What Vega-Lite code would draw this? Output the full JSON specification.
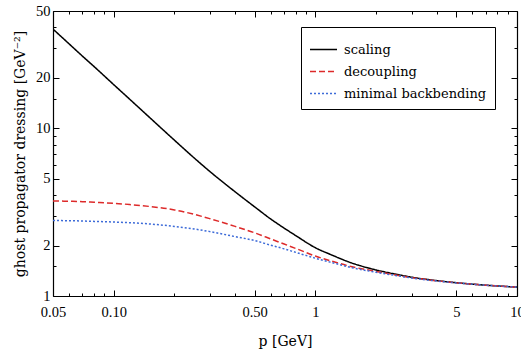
{
  "$schema": "https://vega.github.io/schema/vega-lite/v6.json",
  "width": 464,
  "height": 285,
  "autosize": {"type": "none"},
  "padding": {"left": 53, "top": 11, "right": 4, "bottom": 58},
  "config": {
    "font": "DejaVu Serif",
    "view": {"stroke": null},
    "axis": {
      "labelFont": "Liberation Serif",
      "titleFont": "DejaVu Serif",
      "labelColor": "black",
      "titleColor": "black",
      "domainColor": "black",
      "domainWidth": 1.2,
      "tickColor": "black",
      "tickWidth": 1,
      "grid": false,
      "labelFlush": false,
      "labelFontSize": 14.5,
      "titleFontSize": 14,
      "titleFontWeight": "normal"
    },
    "legend": {
      "labelFont": "DejaVu Serif",
      "labelFontSize": 13,
      "labelColor": "black"
    }
  },
  "data": {
    "values": [
      {"p": 0.05, "D": 39.0, "series": "scaling"},
      {"p": 0.06, "D": 31.9, "series": "scaling"},
      {"p": 0.07, "D": 26.9, "series": "scaling"},
      {"p": 0.08, "D": 23.3, "series": "scaling"},
      {"p": 0.1, "D": 18.2, "series": "scaling"},
      {"p": 0.12, "D": 14.9, "series": "scaling"},
      {"p": 0.15, "D": 11.65, "series": "scaling"},
      {"p": 0.2, "D": 8.49, "series": "scaling"},
      {"p": 0.25, "D": 6.67, "series": "scaling"},
      {"p": 0.3, "D": 5.52, "series": "scaling"},
      {"p": 0.4, "D": 4.18, "series": "scaling"},
      {"p": 0.5, "D": 3.4, "series": "scaling"},
      {"p": 0.6, "D": 2.88, "series": "scaling"},
      {"p": 0.7, "D": 2.54, "series": "scaling"},
      {"p": 0.8, "D": 2.29, "series": "scaling"},
      {"p": 1, "D": 1.94, "series": "scaling"},
      {"p": 1.2, "D": 1.76, "series": "scaling"},
      {"p": 1.5, "D": 1.58, "series": "scaling"},
      {"p": 2, "D": 1.43, "series": "scaling"},
      {"p": 2.5, "D": 1.35, "series": "scaling"},
      {"p": 3, "D": 1.295, "series": "scaling"},
      {"p": 4, "D": 1.235, "series": "scaling"},
      {"p": 5, "D": 1.2, "series": "scaling"},
      {"p": 7, "D": 1.16, "series": "scaling"},
      {"p": 10, "D": 1.13, "series": "scaling"},
      {"p": 0.05, "D": 3.69, "series": "decoupling"},
      {"p": 0.06, "D": 3.67, "series": "decoupling"},
      {"p": 0.07, "D": 3.65, "series": "decoupling"},
      {"p": 0.08, "D": 3.62, "series": "decoupling"},
      {"p": 0.1, "D": 3.57, "series": "decoupling"},
      {"p": 0.12, "D": 3.51, "series": "decoupling"},
      {"p": 0.15, "D": 3.42, "series": "decoupling"},
      {"p": 0.2, "D": 3.26, "series": "decoupling"},
      {"p": 0.25, "D": 3.07, "series": "decoupling"},
      {"p": 0.3, "D": 2.89, "series": "decoupling"},
      {"p": 0.4, "D": 2.6, "series": "decoupling"},
      {"p": 0.5, "D": 2.38, "series": "decoupling"},
      {"p": 0.6, "D": 2.19, "series": "decoupling"},
      {"p": 0.7, "D": 2.04, "series": "decoupling"},
      {"p": 0.8, "D": 1.92, "series": "decoupling"},
      {"p": 1, "D": 1.73, "series": "decoupling"},
      {"p": 1.2, "D": 1.615, "series": "decoupling"},
      {"p": 1.5, "D": 1.5, "series": "decoupling"},
      {"p": 2, "D": 1.4, "series": "decoupling"},
      {"p": 2.5, "D": 1.335, "series": "decoupling"},
      {"p": 3, "D": 1.287, "series": "decoupling"},
      {"p": 4, "D": 1.232, "series": "decoupling"},
      {"p": 5, "D": 1.198, "series": "decoupling"},
      {"p": 7, "D": 1.16, "series": "decoupling"},
      {"p": 10, "D": 1.13, "series": "decoupling"},
      {"p": 0.05, "D": 2.82, "series": "minimal backbending"},
      {"p": 0.06, "D": 2.81, "series": "minimal backbending"},
      {"p": 0.07, "D": 2.8, "series": "minimal backbending"},
      {"p": 0.08, "D": 2.785, "series": "minimal backbending"},
      {"p": 0.1, "D": 2.76, "series": "minimal backbending"},
      {"p": 0.12, "D": 2.735, "series": "minimal backbending"},
      {"p": 0.15, "D": 2.69, "series": "minimal backbending"},
      {"p": 0.2, "D": 2.6, "series": "minimal backbending"},
      {"p": 0.25, "D": 2.51, "series": "minimal backbending"},
      {"p": 0.3, "D": 2.42, "series": "minimal backbending"},
      {"p": 0.4, "D": 2.26, "series": "minimal backbending"},
      {"p": 0.5, "D": 2.14, "series": "minimal backbending"},
      {"p": 0.6, "D": 2.01, "series": "minimal backbending"},
      {"p": 0.7, "D": 1.91, "series": "minimal backbending"},
      {"p": 0.8, "D": 1.82, "series": "minimal backbending"},
      {"p": 1, "D": 1.68, "series": "minimal backbending"},
      {"p": 1.2, "D": 1.585, "series": "minimal backbending"},
      {"p": 1.5, "D": 1.48, "series": "minimal backbending"},
      {"p": 2, "D": 1.385, "series": "minimal backbending"},
      {"p": 2.5, "D": 1.325, "series": "minimal backbending"},
      {"p": 3, "D": 1.28, "series": "minimal backbending"},
      {"p": 4, "D": 1.228, "series": "minimal backbending"},
      {"p": 5, "D": 1.197, "series": "minimal backbending"},
      {"p": 7, "D": 1.16, "series": "minimal backbending"},
      {"p": 10, "D": 1.13, "series": "minimal backbending"}
    ]
  },
  "layer": [
    {
      "mark": {"type": "line", "strokeWidth": 1.5, "interpolate": "monotone", "clip": true},
      "encoding": {
        "x": {
          "field": "p", "type": "quantitative",
          "scale": {"type": "log", "domain": [0.05, 10], "nice": false},
          "axis": {
            "orient": "bottom",
            "values": [0.05, 0.1, 0.5, 1, 5, 10],
            "tickSize": -6,
            "labelPadding": 15,
            "labelExpr": "datum.value < 1 ? format(datum.value, '.2f') : format(datum.value, 'd')",
            "title": "p  [GeV]",
            "titlePadding": 16
          }
        },
        "y": {
          "field": "D", "type": "quantitative",
          "scale": {"type": "log", "domain": [1, 50], "nice": false},
          "axis": {
            "orient": "left",
            "values": [1, 2, 5, 10, 20, 50],
            "tickSize": -6,
            "labelPadding": 9,
            "format": "d",
            "title": "ghost propagator dressing [GeV⁻²]",
            "titlePadding": 8
          }
        },
        "color": {
          "field": "series", "type": "nominal",
          "scale": {"domain": ["scaling", "decoupling", "minimal backbending"], "range": ["#000000", "#dd2a2a", "#3d6bd8"]},
          "legend": {
            "title": null, "orient": "none", "legendX": 248, "legendY": 16,
            "strokeColor": "black", "fillColor": "white", "padding": 8,
            "symbolType": "stroke", "symbolSize": 729, "symbolStrokeWidth": 1.5,
            "rowPadding": -6, "labelOffset": 6
          }
        },
        "strokeDash": {
          "field": "series", "type": "nominal",
          "scale": {"domain": ["scaling", "decoupling", "minimal backbending"], "range": [[1, 0], [6, 3], [2, 2]]},
          "legend": {
            "title": null, "orient": "none", "legendX": 248, "legendY": 16,
            "strokeColor": "black", "fillColor": "white", "padding": 8,
            "symbolType": "stroke", "symbolSize": 729, "symbolStrokeWidth": 1.5,
            "rowPadding": -6, "labelOffset": 6
          }
        }
      }
    },
    {
      "mark": {"type": "line", "opacity": 0},
      "encoding": {
        "x": {"field": "p", "type": "quantitative", "scale": {"type": "log", "domain": [0.05, 10], "nice": false},
          "axis": {"orient": "bottom", "values": [0.06, 0.07, 0.08, 0.09, 0.2, 0.3, 0.4, 0.6, 0.7, 0.8, 0.9, 2, 3, 4, 6, 7, 8, 9], "tickSize": -3, "labels": false, "title": null, "domain": false}},
        "y": {"field": "D", "type": "quantitative", "scale": {"type": "log", "domain": [1, 50], "nice": false},
          "axis": {"orient": "left", "values": [1.5, 3, 4, 6, 7, 8, 9, 15, 30, 40], "tickSize": -3, "labels": false, "title": null, "domain": false}},
        "detail": {"field": "series"}
      }
    },
    {
      "mark": {"type": "line", "opacity": 0},
      "encoding": {
        "x": {"field": "p", "type": "quantitative", "scale": {"type": "log", "domain": [0.05, 10], "nice": false},
          "axis": {"orient": "top", "values": [0.05, 0.1, 0.5, 1, 5, 10], "tickSize": -6, "labels": false, "title": null}},
        "y": {"field": "D", "type": "quantitative", "scale": {"type": "log", "domain": [1, 50], "nice": false},
          "axis": {"orient": "right", "values": [1, 2, 5, 10, 20, 50], "tickSize": -6, "labels": false, "title": null}},
        "detail": {"field": "series"}
      }
    },
    {
      "mark": {"type": "line", "opacity": 0},
      "encoding": {
        "x": {"field": "p", "type": "quantitative", "scale": {"type": "log", "domain": [0.05, 10], "nice": false},
          "axis": {"orient": "top", "values": [0.06, 0.07, 0.08, 0.09, 0.2, 0.3, 0.4, 0.6, 0.7, 0.8, 0.9, 2, 3, 4, 6, 7, 8, 9], "tickSize": -3, "labels": false, "title": null, "domain": false}},
        "y": {"field": "D", "type": "quantitative", "scale": {"type": "log", "domain": [1, 50], "nice": false},
          "axis": {"orient": "right", "values": [1.5, 3, 4, 6, 7, 8, 9, 15, 30, 40], "tickSize": -3, "labels": false, "title": null, "domain": false}},
        "detail": {"field": "series"}
      }
    }
  ],
  "resolve": {"axis": {"x": "independent", "y": "independent"}}
}
